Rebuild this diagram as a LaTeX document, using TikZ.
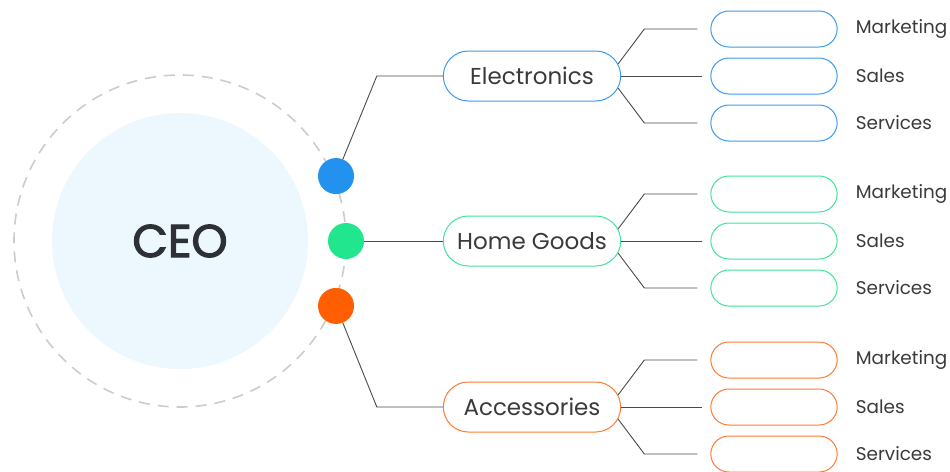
\documentclass[tikz,border=0pt]{standalone}
\usepackage{fontspec}
\setmainfont{Poppins}
\newfontfamily\ceofont[FakeBold=2.5]{Poppins}
\usetikzlibrary{shapes.misc}
\definecolor{ceofill}{HTML}{EDF7FE}
\definecolor{ringgray}{HTML}{CCCCCC}
\definecolor{linkgray}{HTML}{4A4A4A}
\definecolor{txtgray}{HTML}{3A3A3A}
\definecolor{ceotxt}{HTML}{2D3135}
\definecolor{dotblue}{HTML}{2391EE}
\definecolor{dotgreen}{HTML}{22E68E}
\definecolor{dotorange}{HTML}{FF5F00}
\definecolor{boxblue}{HTML}{3C9BEF}
\definecolor{boxgreen}{HTML}{3FE39A}
\definecolor{boxorange}{HTML}{FF7A33}

\begin{document}
\begin{tikzpicture}[x=1pt,y=-1pt,node distance=47pt]
        \tikzstyle{ring}=[draw=ringgray,dash pattern=on 11pt off 8pt,line width=1.6pt]
        \tikzstyle{dot}=[circle,minimum size=36pt,inner sep=0pt]
        \tikzstyle{dept}=[rounded rectangle,draw,fill=white,line width=1pt,minimum width=184pt,minimum height=50pt,text=txtgray,font=\fontsize{23}{26}\selectfont]
        \tikzstyle{slot}=[rounded rectangle,draw,fill=white,line width=1pt,minimum width=133pt,minimum height=36pt]
        \tikzstyle{tag}=[anchor=west,inner sep=0pt,text=txtgray,font=\fontsize{18.4}{21}\selectfont]
        \tikzstyle{link}=[draw=linkgray,line width=0.9pt]

        \useasboundingbox (0,0) rectangle (950,471);

        \node[circle,fill=ceofill,minimum size=256pt,text=ceotxt,font=\ceofont\fontsize{46}{50}\selectfont] (C00) at (180,241) {CEO};
        \draw[ring] (C00.center) circle (166pt);

        \node[dot,fill=dotblue]   (P01) at ([shift={(22.6:169pt)}]C00.center)  {};
        \node[dot,fill=dotgreen]  (P02) at ([xshift=166pt]C00.center)          {};
        \node[dot,fill=dotorange] (P03) at ([shift={(-22.6:169pt)}]C00.center) {};

        \node[dept,draw=boxgreen]  (D02) [right of=P02,node distance=186pt] {Home Goods};
        \node[dept,draw=boxblue]   (D01) [above of=D02,node distance=165pt] {Electronics};
        \node[dept,draw=boxorange] (D03) [below of=D02,node distance=166pt] {Accessories};

        \node[slot,draw=boxblue]   (B02) [right of=D01,node distance=242pt] {}; % Electronics
        \node[slot,draw=boxblue]   (B01) [above of=B02]                     {};
        \node[slot,draw=boxblue]   (B03) [below of=B02]                     {};
        \node[slot,draw=boxgreen]  (B05) [right of=D02,node distance=242pt] {}; % Home Goods
        \node[slot,draw=boxgreen]  (B04) [above of=B05]                     {};
        \node[slot,draw=boxgreen]  (B06) [below of=B05]                     {};
        \node[slot,draw=boxorange] (B08) [right of=D03,node distance=242pt] {}; % Accessories
        \node[slot,draw=boxorange] (B07) [above of=B08]                     {};
        \node[slot,draw=boxorange] (B09) [below of=B08]                     {};

        \node[tag] (L01) at ([xshift=18pt]B01.east) {Marketing};
        \node[tag] (L02) at ([xshift=18pt]B02.east) {Sales};
        \node[tag] (L03) at ([xshift=18pt]B03.east) {Services};
        \node[tag] (L04) at ([xshift=18pt]B04.east) {Marketing};
        \node[tag] (L05) at ([xshift=18pt]B05.east) {Sales};
        \node[tag] (L06) at ([xshift=18pt]B06.east) {Services};
        \node[tag] (L07) at ([xshift=18pt]B07.east) {Marketing};
        \node[tag] (L08) at ([xshift=18pt]B08.east) {Sales};
        \node[tag] (L09) at ([xshift=18pt]B09.east) {Services};

        \coordinate (K01) at ([xshift=-66pt]D01.west);
        \coordinate (K03) at ([xshift=-66pt]D03.west);

        \draw[link] (P01) -- (K01) -- (D01.west);
        \draw[link] (P02) -- (D02.west);
        \draw[link] (P03) -- (K03) -- (D03.west);

        \draw[link] (D01.8)   -- ([xshift=-66pt]B01.west) -- ([xshift=-13pt]B01.west); % Electronics
        \draw[link] (D01.east) -- ([xshift=-8pt]B02.west);
        \draw[link] (D01.352) -- ([xshift=-66pt]B03.west) -- ([xshift=-13pt]B03.west);
        \draw[link] (D02.8)   -- ([xshift=-66pt]B04.west) -- ([xshift=-13pt]B04.west); % Home Goods
        \draw[link] (D02.east) -- ([xshift=-8pt]B05.west);
        \draw[link] (D02.352) -- ([xshift=-66pt]B06.west) -- ([xshift=-13pt]B06.west);
        \draw[link] (D03.8)   -- ([xshift=-66pt]B07.west) -- ([xshift=-13pt]B07.west); % Accessories
        \draw[link] (D03.east) -- ([xshift=-8pt]B08.west);
        \draw[link] (D03.352) -- ([xshift=-66pt]B09.west) -- ([xshift=-13pt]B09.west);
\end{tikzpicture}
\end{document}
